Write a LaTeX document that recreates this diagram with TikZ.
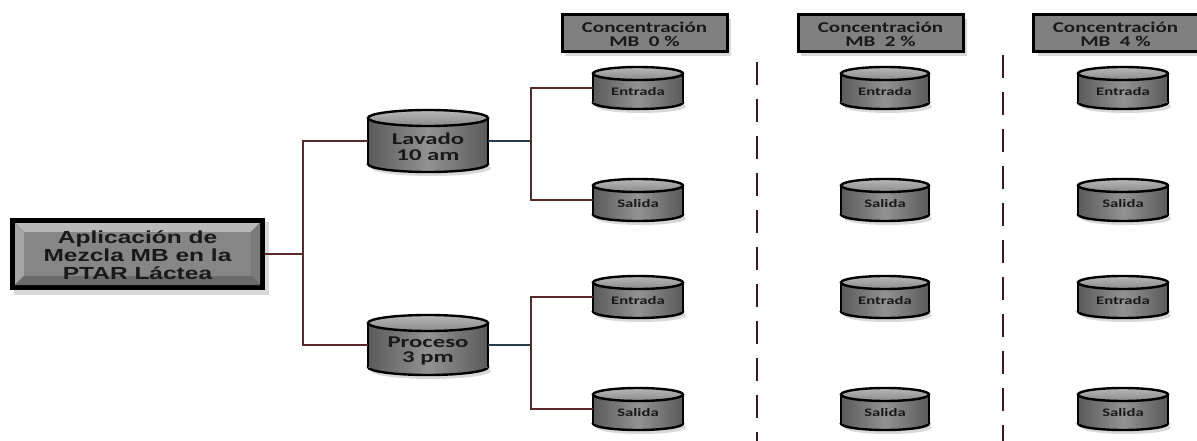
\documentclass[tikz,border=0pt]{standalone}
\usepackage{fontspec}
\setmainfont{Carlito}
\newfontfamily\arialf{Liberation Sans}
\usepackage{graphicx}
\definecolor{cylD}{HTML}{5A5A5A}
\definecolor{cylM}{HTML}{929292}
\definecolor{cylT1}{HTML}{B8B8B8}
\definecolor{cylT2}{HTML}{8A8A8A}
\definecolor{boxface}{HTML}{808080}
\definecolor{redln}{HTML}{5A2A2A}
\definecolor{blueln}{HTML}{2B3A4A}
\definecolor{dashc}{HTML}{3A1A1A}
\newcommand\wt[2]{\scalebox{#1}[1]{\begin{tabular}{@{}c@{}}#2\end{tabular}}}
\tikzset{
  cylline/.style={draw=black, line width=2.4pt},
  anchorbox/.style={inner sep=0pt, outer sep=0pt, minimum width=#1},
  bigtxt/.style={inner sep=0pt, text=black!90, font=\fontsize{16.5}{15.5}\selectfont\bfseries},
  smalltxt/.style={inner sep=0pt, text=black!90, font=\fontsize{11.5}{12}\selectfont\bfseries},
  hdr/.style={draw=black, line width=3pt, fill=boxface, minimum width=165pt, minimum height=37pt, inner sep=0pt},
  hdrtxt/.style={inner sep=0pt, text=black!90, font=\fontsize{15}{13.5}\selectfont\bfseries},
  maintxt/.style={inner sep=0pt, text=black!90, font=\arialf\fontsize{17.5}{17.3}\selectfont\bfseries},
  redline/.style={draw=redln, line width=1.3pt},
  blueline/.style={draw=blueln, line width=1.3pt},
  sepline/.style={draw=dashc, line width=2pt, dash pattern=on 23pt off 14pt},
  shadowc/.style={fill=black!15},
}
% #1 name, #2 cx, #3 cy, #4 w, #5 h, #6 ry, #7 text shift, #8 text style, #9 text
\newcommand\cyl[9]{%
  \fill[shadowc] ({#2+3},{#3+#5/2-#6+4}) ellipse[x radius={#4/2}, y radius={#6}];
  \shade[left color=cylD, right color=cylD, middle color=cylM] ({#2},{#3+#5/2-#6}) ellipse[x radius={#4/2}, y radius={#6}];
  \draw[cylline] ({#2},{#3+#5/2-#6}) ellipse[x radius={#4/2}, y radius={#6}];
  \shade[left color=cylD, right color=cylD, middle color=cylM] ({#2-#4/2},{#3-#5/2+#6}) rectangle ({#2+#4/2},{#3+#5/2-#6});
  \draw[cylline] ({#2-#4/2},{#3-#5/2+#6}) -- ({#2-#4/2},{#3+#5/2-#6}) ({#2+#4/2},{#3-#5/2+#6}) -- ({#2+#4/2},{#3+#5/2-#6});
  \draw[cylline, top color=cylT1, bottom color=cylT2] ({#2},{#3-#5/2+#6}) ellipse[x radius={#4/2}, y radius={#6}];
  \node[anchorbox=#4pt, minimum height=#5pt] (#1) at (#2,#3) {};
  \node[#8] (#1-t) at (#2,{#3+#7}) {#9};
}
\begin{document}
\begin{tikzpicture}[x=1pt, y=-1pt]
\useasboundingbox (0,0) rectangle (1197,441);
% ---- main box
\fill[shadowc] (14,222) rectangle (269,295);
\fill[black] (10,218) rectangle (265,290);
\fill[black!28] (15,223) -- (260,223) -- (251,232) -- (24,232) -- cycle;
\fill[black!35] (15,223) -- (24,232) -- (24,276) -- (15,285) -- cycle;
\fill[black!58] (15,285) -- (24,276) -- (251,276) -- (260,285) -- cycle;
\fill[black!52] (260,223) -- (260,285) -- (251,276) -- (251,232) -- cycle;
\fill[boxface!95!white] (24,232) rectangle (251,276);
\node[anchorbox=255pt, minimum height=72pt] (main) at (137.5,254) {};
\node[maintxt] (main-t) at (137.5,258) {\wt{1.40}{Aplicación de\\Mezcla MB en la\\PTAR Láctea}};
% ---- headers
\fill[shadowc] (565,19) rectangle (731,56);
\fill[shadowc] (801,19) rectangle (967,56);
\fill[shadowc] (1038,19) rectangle (1197,56);
\node[hdr] (h1) at (644.5,33.5) {};
\node[hdr] (h2) at (880.5,33.5) {};
\node[hdr] (h3) at (1115.5,33.5) {};
\node[hdrtxt] (h1-t) at (644.5,36) {\wt{1.4}{Concentración\\MB\ \ 0 \%}};
\node[hdrtxt] (h2-t) at (880.5,36) {\wt{1.4}{Concentración\\MB\ \ 2 \%}};
\node[hdrtxt] (h3-t) at (1115.5,36) {\wt{1.4}{Concentración\\MB\ \ 4 \%}};
% ---- big cylinders
\cyl{lav}{428}{141}{120}{62}{8}{8}{bigtxt}{\wt{1.5}{Lavado\\10 am}}
\cyl{pro}{428}{345}{120}{60}{8}{7}{bigtxt}{\wt{1.5}{Proceso\\3 pm}}
% ---- small cylinders
\cyl{e11}{638}{88}{90}{42}{6.5}{5}{smalltxt}{\wt{1.45}{Entrada}}
\cyl{s11}{638}{200}{90}{42}{6.5}{5}{smalltxt}{\wt{1.45}{Salida}}
\cyl{e21}{638}{297}{90}{42}{6.5}{5}{smalltxt}{\wt{1.45}{Entrada}}
\cyl{s21}{638}{409}{90}{42}{6.5}{5}{smalltxt}{\wt{1.45}{Salida}}
\cyl{e12}{885}{88}{88}{42}{6.5}{5}{smalltxt}{\wt{1.45}{Entrada}}
\cyl{s12}{885}{200}{88}{42}{6.5}{5}{smalltxt}{\wt{1.45}{Salida}}
\cyl{e22}{885}{297}{88}{42}{6.5}{5}{smalltxt}{\wt{1.45}{Entrada}}
\cyl{s22}{885}{409}{88}{42}{6.5}{5}{smalltxt}{\wt{1.45}{Salida}}
\cyl{e13}{1123}{88}{90}{42}{6.5}{5}{smalltxt}{\wt{1.45}{Entrada}}
\cyl{s13}{1123}{200}{90}{42}{6.5}{5}{smalltxt}{\wt{1.45}{Salida}}
\cyl{e23}{1123}{297}{90}{42}{6.5}{5}{smalltxt}{\wt{1.45}{Entrada}}
\cyl{s23}{1123}{409}{90}{42}{6.5}{5}{smalltxt}{\wt{1.45}{Salida}}
% ---- connectors
\coordinate (j1) at (303,254);
\coordinate (j2) at (531,141);
\coordinate (j3) at (531,345);
\draw[redline] (main.east) -- (j1);
\draw[redline] (lav.west) -| (j1) |- (pro.west);
\draw[blueline] (lav.east) -- (j2);
\draw[redline] (e11.west) -| (j2) |- (s11.west);
\draw[blueline] (pro.east) -- (j3);
\draw[redline] (e21.west) -| (j3) |- (s21.west);
% ---- separators
\coordinate (d1t) at (757,62);
\coordinate (d1b) at (757,441);
\coordinate (d2t) at (1003,55);
\coordinate (d2b) at (1003,441);
\draw[sepline] (d1t) -- (d1b);
\draw[sepline] (d2t) -- (d2b);
\end{tikzpicture}
\end{document}
